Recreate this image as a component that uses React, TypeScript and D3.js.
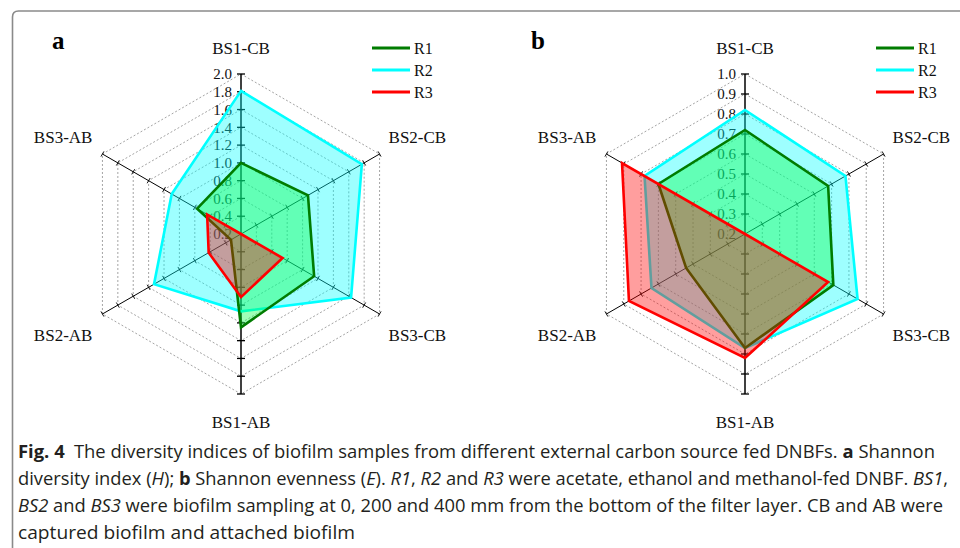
import React from 'react'
import * as d3 from 'd3'

// Axis categories (clockwise from top)
const categories = ['BS1-CB', 'BS2-CB', 'BS3-CB', 'BS1-AB', 'BS2-AB', 'BS3-AB']
const seriesNames = ['R1', 'R2', 'R3']

// a: Shannon diversity index (H)
const shannonR1 = [1.0, 1.07, 1.15, 1.25, 0.33, 0.77]
const shannonR2 = [1.81, 1.77, 1.63, 1.07, 1.33, 1.1]
const shannonR3 = [0.2, 0.2, 0.74, 0.91, 0.62, 0.64]
const shannonTicks = [0.2, 0.4, 0.6, 0.8, 1.0, 1.2, 1.4, 1.6, 1.8, 2.0]

// b: Shannon evenness (E)
const evennessR1 = [0.72, 0.68, 0.71, 0.77, 0.54, 0.7]
const evennessR2 = [0.82, 0.78, 0.85, 0.77, 0.74, 0.78]
const evennessR3 = [0.2, 0.2, 0.68, 0.82, 0.87, 0.91]
const evennessTicks = [0.2, 0.3, 0.4, 0.5, 0.6, 0.7, 0.8, 0.9, 1.0]

const lineColors = ['#007c00', '#00ffff', '#ff0000']
const fillColors = ['#00ff40', '#00ffff', '#ff0000']
// cyan is painted first, then green, then red
const drawOrder = [1, 0, 2]

const serif = '"Liberation Serif", "Times New Roman", serif'
const sans = '"Open Sans", "Noto Sans", sans-serif'

function Radar(props: any) {
    const { cx, cy, radius, ticks, series, letter, letterX, legendX } = props
    const n = categories.length
    const rScale = d3.scaleLinear()
        .domain([ticks[0], ticks[ticks.length - 1]])
        .range([0, radius])
    const angle = (i: number) => (i * 2 * Math.PI) / n

    const radial = d3.lineRadial<number>()
        .angle((d, i) => angle(i))
        .radius(d => rScale(Math.max(d, ticks[0])))
        .curve(d3.curveLinearClosed)

    const pt = (i: number, v: number) => {
        const a = angle(i)
        const r = rScale(v)
        return [cx + r * Math.sin(a), cy - r * Math.cos(a)]
    }

    const top = ticks[ticks.length - 1]
    const fmt = d3.format('.1f')

    return (
        <g>
            <text x={letterX} y={49} fontFamily={serif} fontWeight="bold" fontSize={25}>{letter}</text>

            {/* dashed hexagon grid */}
            {ticks.slice(1).map((t: number, k: number) => (
                <path key={'g' + k}
                    d={radial(categories.map(() => t)) as string}
                    transform={`translate(${cx},${cy})`}
                    fill="none" stroke="#9a9a9a" strokeWidth={0.9} strokeDasharray="2,2" />
            ))}

            {/* axes with ticks */}
            {categories.map((c, i) => {
                const [x2, y2] = pt(i, top)
                const vertical = i === 0 || i === 3
                const a = angle(i)
                const px = Math.cos(a), py = Math.sin(a)
                const half = vertical ? 4 : 3
                return (
                    <g key={'ax' + i}>
                        <line x1={cx} y1={cy} x2={x2} y2={y2} stroke="#000" strokeWidth={vertical ? 1.5 : 1} />
                        {ticks.slice(1).map((t: number, k: number) => {
                            const [tx, ty] = pt(i, t)
                            return <line key={k} x1={tx - px * half} y1={ty - py * half}
                                x2={tx + px * half} y2={ty + py * half}
                                stroke="#000" strokeWidth={vertical ? 1.3 : 0.9} />
                        })}
                    </g>
                )
            })}

            {/* tick labels on the top axis */}
            {ticks.map((t: number, k: number) => {
                const [, ty] = pt(0, t)
                return <text key={'tl' + k} x={cx - 9} y={ty} dy="0.35em" textAnchor="end"
                    fontFamily={serif} fontSize={15} fill="#111">{fmt(t)}</text>
            })}

            {/* series polygons */}
            {drawOrder.map(s => (
                <path key={'s' + s}
                    d={radial(series[s]) as string}
                    transform={`translate(${cx},${cy})`}
                    fill={fillColors[s]} fillOpacity={0.38}
                    stroke={lineColors[s]} strokeWidth={2.6} strokeLinejoin="miter" />
            ))}

            {/* category labels */}
            {categories.map((c, i) => {
                const [vx, vy] = pt(i, top)
                let x = vx, y = vy, anchor = 'middle'
                if (i === 0) { y = vy - 20 }
                else if (i === 3) { y = vy + 34 }
                else if (i === 1) { x = vx + 9; y = vy - 11; anchor = 'start' }
                else if (i === 2) { x = vx + 9; y = vy + 27; anchor = 'start' }
                else if (i === 4) { x = vx - 10; y = vy + 27; anchor = 'end' }
                else { x = vx - 10; y = vy - 11; anchor = 'end' }
                return <text key={'c' + i} x={x} y={y} textAnchor={anchor}
                    fontFamily={serif} fontSize={17} fill="#111">{c}</text>
            })}

            {/* legend */}
            {seriesNames.map((name, s) => {
                const y = 48 + s * 22
                return (
                    <g key={'lg' + s}>
                        <line x1={legendX} x2={legendX + 38} y1={y} y2={y} stroke={lineColors[s]} strokeWidth={3} />
                        <text x={legendX + 42} y={y + 5.5} fontFamily={serif} fontSize={16} fill="#111">{name}</text>
                    </g>
                )
            })}
        </g>
    )
}

export default function App() {
    return (
        <svg width={960} height={548} style={{ position: 'absolute', left: 0, top: 0, background: '#fff' }}>
            <rect x={0} y={0} width={960} height={548} fill="#fff" />
            <path d="M12.5,548 V17 Q12.5,11 18.5,11 H960" fill="none" stroke="#8a8a8a" strokeWidth={1.6} />

            <Radar cx={241} cy={234} radius={160} ticks={shannonTicks}
                series={[shannonR1, shannonR2, shannonR3]}
                letter="a" letterX={52} legendX={372} />
            <Radar cx={745} cy={234} radius={160} ticks={evennessTicks}
                series={[evennessR1, evennessR2, evennessR3]}
                letter="b" letterX={531} legendX={876} />

            <g fontFamily={sans} fontSize={18.5} fill="#231f20">
                <text x={18} y={458} textLength={917} lengthAdjust="spacingAndGlyphs">
                    <tspan fontWeight="bold">Fig. 4</tspan>
                    <tspan>{'\u2002The diversity indices of biofilm samples from different external carbon source fed DNBFs. '}</tspan>
                    <tspan fontWeight="bold">a</tspan>
                    <tspan> Shannon</tspan>
                </text>
                <text x={18} y={485} textLength={930} lengthAdjust="spacingAndGlyphs">
                    <tspan>diversity index (</tspan>
                    <tspan fontStyle="italic">H</tspan>
                    <tspan>); </tspan>
                    <tspan fontWeight="bold">b</tspan>
                    <tspan> Shannon evenness (</tspan>
                    <tspan fontStyle="italic">E</tspan>
                    <tspan>). </tspan>
                    <tspan fontStyle="italic">R1</tspan>
                    <tspan>, </tspan>
                    <tspan fontStyle="italic">R2</tspan>
                    <tspan> and </tspan>
                    <tspan fontStyle="italic">R3</tspan>
                    <tspan> were acetate, ethanol and methanol-fed DNBF. </tspan>
                    <tspan fontStyle="italic">BS1</tspan>
                    <tspan>,</tspan>
                </text>
                <text x={18} y={512} textLength={925} lengthAdjust="spacingAndGlyphs">
                    <tspan fontStyle="italic">BS2</tspan>
                    <tspan> and </tspan>
                    <tspan fontStyle="italic">BS3</tspan>
                    <tspan> were biofilm sampling at 0, 200 and 400 mm from the bottom of the filter layer. CB and AB were</tspan>
                </text>
                <text x={18} y={539} textLength={337} lengthAdjust="spacingAndGlyphs">
                    captured biofilm and attached biofilm
                </text>
            </g>
        </svg>
    )
}
